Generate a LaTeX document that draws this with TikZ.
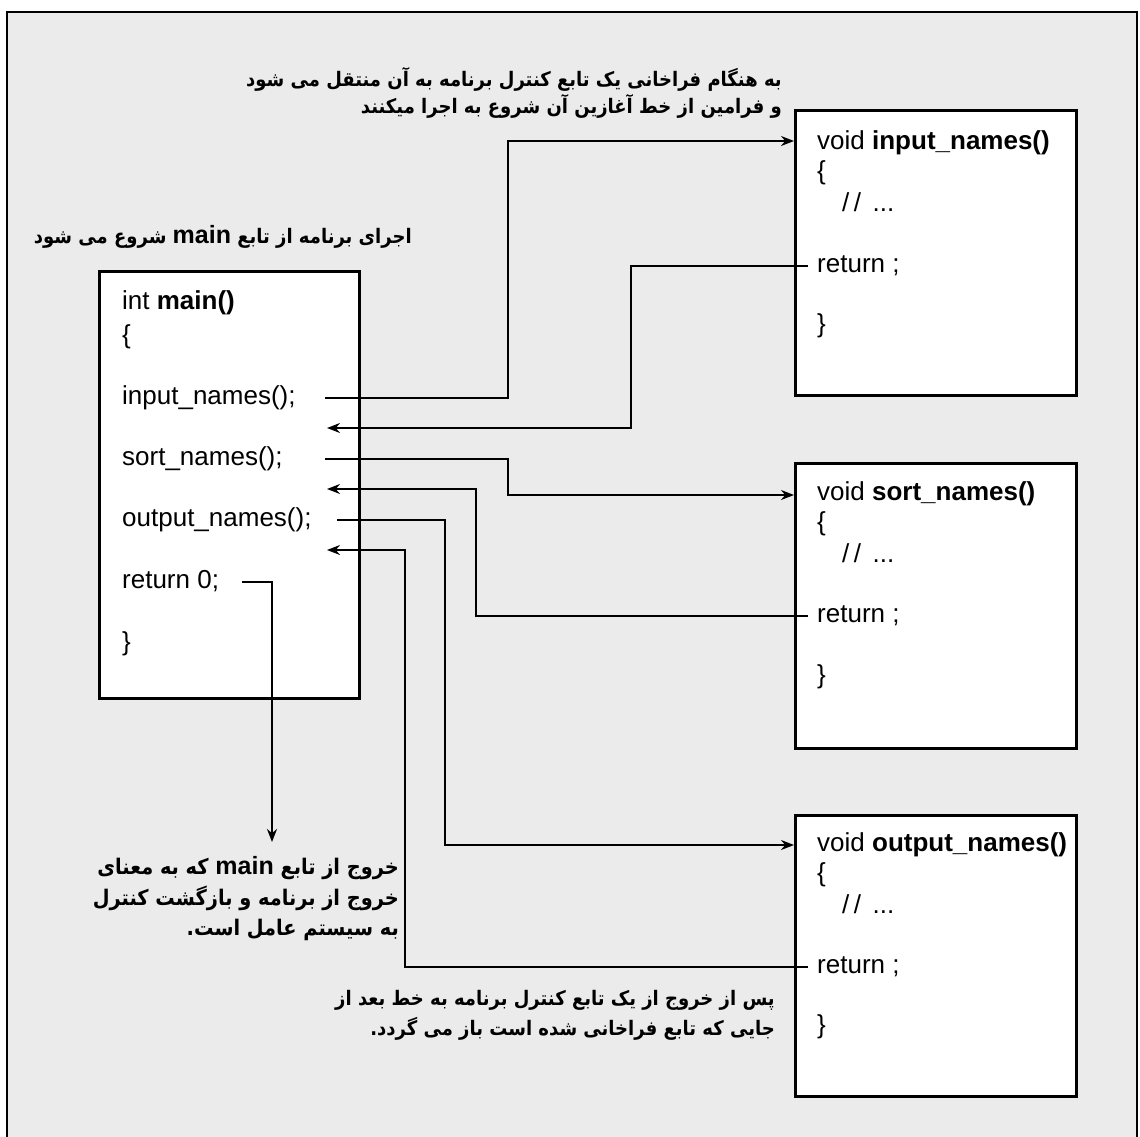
\documentclass[tikz,border=0pt]{standalone}
\usepackage{fontspec}
\setmainfont{Liberation Sans}
\newfontfamily\farsi[Script=Arabic, FakeStretch=0.9]{DejaVu Sans}
\TeXXeTstate=1
\usetikzlibrary{arrows.meta}
\definecolor{panel}{gray}{0.92}
\newcommand{\latinword}[1]{\beginL{\rmfamily\fontsize{25}{29}\selectfont #1}\endL{}}
\tikzset{
    callchart/.style={
        x=1pt, y=-1pt,
        % Stile per le funzioni (rettangolo bianco)
        funcbox/.style={draw, line width=3pt, fill=white,
                        anchor=north west, inner sep=0pt},
        % Stile per le righe di codice
        codeline/.style={anchor=west, inner sep=0pt,
                         text height=20pt, text depth=7pt,
                         font=\fontsize{26}{32}\selectfont},
        % Stile per le note in persiano
        note/.style={anchor=east, align=right, inner sep=0pt,
                     font=\farsi\bfseries\fontsize{20}{30}\selectfont},
        % Stile per le frecce del flusso
        flow/.style={line width=1.8pt, -{Stealth[length=13pt,width=10pt]}}
    }
}
\begin{document}
\begin{tikzpicture}[callchart]
      \useasboundingbox (0,0) rectangle (1140,1136);
      \draw[line width=2pt, fill=panel] (7,12) rectangle (1137,1160);

      \node[funcbox, minimum width=260pt, minimum height=427pt] (mainbox) at (98,270) {};
      \node[codeline] (mainhead) at (122,303) {int \textbf{main()}};
      \node[codeline] (mainopen) at (122,337) {\{};
      \node[codeline] (maininput) at (122,398) {input\_names();};
      \node[codeline] (mainsort) at (122,459) {sort\_names();};
      \node[codeline] (mainoutput) at (122,520) {output\_names();};
      \node[codeline] (mainreturn) at (122,582) {return 0;};
      \node[codeline] (mainclose) at (122,644) {\}};

      \node[funcbox, minimum width=281pt, minimum height=285pt] (inputbox) at (794,109) {};
      \node[codeline] (inputhead) at (817,143) {void \textbf{input\_names()}};
      \node[codeline] (inputopen) at (817,173) {\{};
      \node[codeline] (inputbody) at (842,205) {/\,/ \,...};
      \node[codeline] (inputret) at (817,266) {return ;};
      \node[codeline] (inputclose) at (817,326) {\}};

      \node[funcbox, minimum width=281pt, minimum height=285pt] (sortbox) at (794,462) {};
      \node[codeline] (sorthead) at (817,494) {void \textbf{sort\_names()}};
      \node[codeline] (sortopen) at (817,524) {\{};
      \node[codeline] (sortbody) at (842,556) {/\,/ \,...};
      \node[codeline] (sortret) at (817,616) {return ;};
      \node[codeline] (sortclose) at (817,677) {\}};

      \node[funcbox, minimum width=281pt, minimum height=281pt] (outputbox) at (794,814) {};
      \node[codeline] (outputhead) at (817,845) {void \textbf{output\_names()}};
      \node[codeline] (outputopen) at (817,875) {\{};
      \node[codeline] (outputbody) at (842,907) {/\,/ \,...};
      \node[codeline] (outputret) at (817,967) {return ;};
      \node[codeline] (outputclose) at (817,1027) {\}};

      \coordinate (inputcall) at (325,398);
      \coordinate (inputback) at (327,428);
      \coordinate (sortcall) at (325,459);
      \coordinate (sortback) at (327,489);
      \coordinate (outputcall) at (337,520);
      \coordinate (outputback) at (327,550);
      \coordinate (exitstart) at (242,582);
      \coordinate (exitend) at (272,842);

      \draw[flow] (inputcall) -| (508,141) -- (inputbox.west |- 0,141);
      \draw[flow] ([xshift=-9pt]inputret.west) -| (631,428) -- (inputback);
      \draw[flow] (sortcall) -| (508,495) -- (sortbox.west |- 0,495);
      \draw[flow] ([xshift=-9pt]sortret.west) -| (476,489) -- (sortback);
      \draw[flow] (outputcall) -| (445,845) -- (outputbox.west |- 0,845);
      \draw[flow] ([xshift=-9pt]outputret.west) -| (405,550) -- (outputback);
      \draw[flow] (exitstart) -| (exitend);

      \node[note] (callnote) at (782,93)
            {\beginR به هنگام فراخانی یک تابع کنترل برنامه به آن منتقل می شود\endR\\[-3pt]
             \beginR و فرامین از خط آغازین آن شروع به اجرا میکنند\endR};
      \node[note] (startnote) at (412,237)
            {\beginR اجرای برنامه از تابع \latinword{main} شروع می شود\endR};
      \node[note, font=\farsi\bfseries\fontsize{21.5}{30.5}\selectfont] (exitnote) at (399,899)
            {\beginR خروج از تابع \latinword{main} که به معنای\endR\\
             \beginR خروج از برنامه و بازگشت کنترل\endR\\
             \beginR به سیستم عامل است.\endR};
      \node[note] (returnnote) at (775,1015)
            {\beginR پس از خروج از یک تابع کنترل برنامه به خط بعد از\endR\\
             \beginR جایی که تابع فراخانی شده است باز می گردد.\endR};
    \end{tikzpicture}
\end{document}
